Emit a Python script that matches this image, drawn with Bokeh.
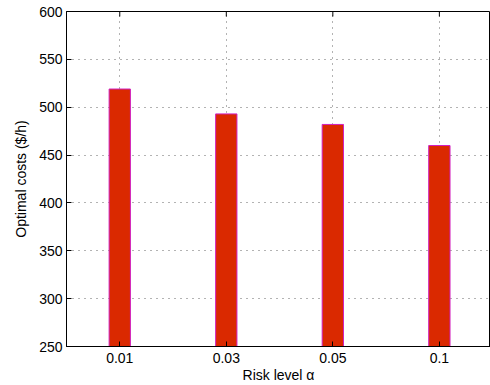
from bokeh.plotting import figure
from bokeh.models import FixedTicker, Range1d
from bokeh.embed import file_html
from bokeh.resources import INLINE

# ---- data ----
risk_levels = ["0.01", "0.03", "0.05", "0.1"]
optimal_costs = [519, 493, 482, 460]
y_ticks = [250, 300, 350, 400, 450, 500, 550, 600]
x_label = "Risk level \u03b1"
y_label = "Optimal costs ($/h)"

x_pos = list(range(1, len(risk_levels) + 1))
FONT = "Liberation Sans"
FRAME_H = 335.0

p = figure(width=490, height=385, output_backend="svg", toolbar_location=None,
           x_range=Range1d(0.5, 4.48), y_range=Range1d(y_ticks[0], y_ticks[-1]),
           min_border_left=66, min_border_right=0, min_border_top=11,
           min_border_bottom=39)
p.background_fill_color = "white"
p.border_fill_color = "white"
p.outline_line_color = "black"
p.outline_line_width = 1

p.vbar(x=x_pos, top=optimal_costs, bottom=y_ticks[0], width=0.2,
       fill_color="#DA2900", line_color="#D020C0", line_width=1)

# inward tick marks on the top box edge (MATLAB box style)
tick_len = 5 * (y_ticks[-1] - y_ticks[0]) / FRAME_H
p.segment(x0=x_pos, x1=x_pos, y0=[y_ticks[-1]] * len(x_pos),
          y1=[y_ticks[-1] - tick_len] * len(x_pos),
          line_color="black", line_width=1)

# axes
p.xaxis.ticker = FixedTicker(ticks=x_pos)
p.xaxis.major_label_overrides = {i: lab for i, lab in zip(x_pos, risk_levels)}
p.yaxis.ticker = FixedTicker(ticks=y_ticks)
for ax in (p.xaxis, p.yaxis):
    ax.axis_line_color = "black"
    ax.axis_line_width = 1
    ax.major_tick_in = 5
    ax.major_tick_out = 0
    ax.minor_tick_in = 0
    ax.minor_tick_out = 0
    ax.major_tick_line_color = "black"
    ax.major_label_text_font = FONT
    ax.major_label_text_font_size = "14px"
    ax.major_label_text_color = "black"
    ax.axis_label_text_font = FONT
    ax.axis_label_text_font_size = "14px"
    ax.axis_label_text_font_style = "normal"
    ax.axis_label_text_color = "black"
p.xaxis.major_label_standoff = 6
p.yaxis.major_label_standoff = 4

p.xaxis.axis_label = x_label
p.xaxis.axis_label_standoff = 1
p.yaxis.axis_label = y_label
p.yaxis.axis_label_standoff = 7

# grid
for g in (p.xgrid, p.ygrid):
    g.grid_line_color = "#666666"
    g.grid_line_dash = "1 5"
    g.grid_line_width = 1
p.xgrid.ticker = FixedTicker(ticks=x_pos)
p.ygrid.ticker = FixedTicker(ticks=y_ticks)

open("out.html", "w").write(file_html(p, INLINE))
